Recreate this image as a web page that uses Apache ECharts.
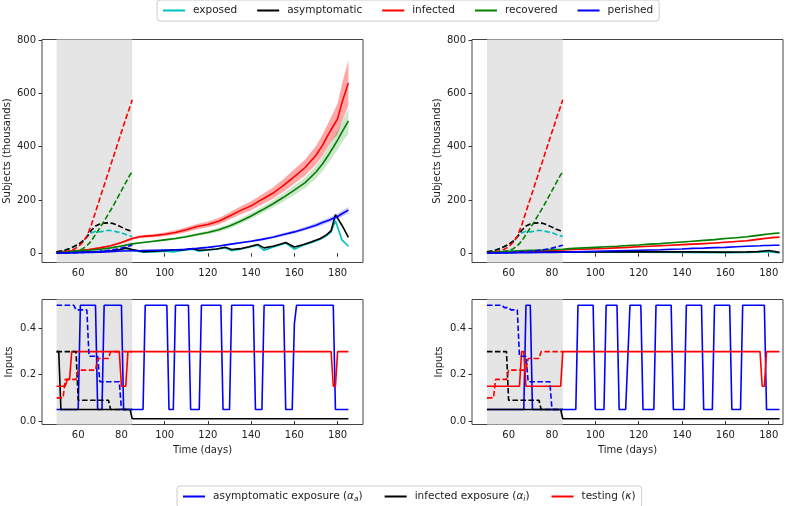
<!DOCTYPE html>
<html>
<head>
<meta charset="utf-8">
<script src="https://cdn.jsdelivr.net/npm/echarts@6/dist/echarts.min.js"></script>
<style>
html,body{margin:0;padding:0;background:#fff;}
#c{width:794px;height:506px;}
</style>
</head>
<body>
<div id="c"></div>
<script>
// ---------- tick labels / ranges ----------
const xTicks = [60, 80, 100, 120, 140, 160, 180];
const yTicksTop = [0, 200, 400, 600, 800];
const yTicksBottom = [0, 0.2, 0.4];
const shadeRange = [50, 85];

// ---------- top panels: smooth curves ----------
const smoothDays = [50,55,60,65,70,75,80,85,88,90,95,100,105,110,115,120,125,130,135,140,145,150,155,160,165,170,173,176,178,180,182,185];
// left
const infectedL      = [5,7,10,14,20,28,40,55,61,63,66,71,78,88,100,108,120,140,160,178,202,225,255,288,322,368,405,450,478,505,565,640];
const infectedBandL  = [3,3,3,3,3,3,4,5,5,5,6,7,8,9,10,11,12,13,15,17,19,21,24,27,30,35,40,45,50,58,70,85];
const recoveredL     = [3,5,8,11,15,20,27,35,38,40,45,50,55,62,70,78,88,102,120,140,162,185,210,237,265,305,335,372,398,425,455,497];
const recoveredBandL = [2,2,2,2,2,2,3,3,3,3,4,4,5,5,6,7,8,9,10,11,12,14,16,18,20,24,27,30,33,36,40,48];
const perishedL      = [0,1,2,3,4,6,8,9,9,10,11,12,13,15,18,22,27,33,39,45,52,60,70,80,92,105,115,124,131,138,148,162];
const perishedBandL  = [1,1,1,1,1,1,1,1,1,1,1,2,2,2,2,3,3,3,4,4,5,5,6,6,7,8,9,9,10,10,11,12];
const spikeDaysL     = [50,55,60,65,70,75,80,82,85,90,95,100,104,108,113,116,120,124,128,131,135,139,143,146,150,153,156,160,164,168,172,175,177,179,182,185];
const asymptomaticL  = [3,3,4,5,6,8,15,20,14,6,7,9,12,12,17,11,13,16,22,14,17,24,33,20,26,33,40,23,32,43,55,70,85,145,105,59];
const exposedL       = [3,3,4,5,6,8,14,18,10,4,5,7,5,10,15,7,12,15,20,9,15,22,30,11,22,30,38,15,30,40,52,66,80,122,50,26];
// right
const infectedR      = [3,4,5,6,8,9,11,12,13,14,15,17,18,20,22,24,26,28,30,32,34,36,38,41,44,47,50,53,55,57,59,60];
const infectedBandR  = [1,1,1,1,1,1,1,1,1,1,1,1,1,1,1,2,2,2,2,2,2,2,3,3,3,3,3,3,4,4,4,4];
const recoveredR     = [3,5,7,9,11,12,14,15,17,18,20,22,24,26,29,31,34,36,39,42,45,48,51,55,58,62,65,68,70,72,74,76];
const recoveredBandR = [1,1,1,1,1,1,1,1,1,1,1,1,1,1,1,2,2,2,2,2,2,2,3,3,3,3,3,3,4,4,4,4];
const perishedR      = [0,1,1,2,2,3,3,4,5,5,6,7,8,9,10,11,12,13,15,16,18,19,21,22,24,26,27,28,29,29,30,30];
const perishedBandR  = [1,1,1,1,1,1,1,1,1,1,1,1,1,1,1,1,1,1,1,1,1,1,1,1,1,1,1,1,1,1,1,1];
const spikeDaysR     = [50,60,70,80,85,100,120,140,160,170,175,180,185];
const asymptomaticR  = [3,4,5,6,5,5,6,5,4,5,6,10,3];
const exposedR       = [3,4,5,5,4,4,4,3,2,3,4,6,1];
// predictions (dashed, shaded period)
const predDays         = [50,52,54,56,58,60,62,64,66,68,70,72,74,76,78,80,82,84,85];
const predInfected     = [2,3,5,9,15,24,40,63,105,155,205,255,305,355,405,455,505,552,577];
const predRecovered    = [1,2,3,5,7,10,16,28,45,70,95,120,148,175,205,235,265,295,305];
const predAsymptomatic = [5,8,12,18,25,33,45,62,85,102,110,113,114,112,106,98,90,84,82];
const predExposed      = [5,8,12,17,24,32,42,60,76,82,80,83,86,84,80,77,70,65,63];
const predPerished     = [0,0,1,1,2,2,3,4,5,6,7,9,11,13,16,19,23,28,30];

// ---------- bottom panels: inputs ----------
const aA_L_days = [50,60,61,68,69,71,72,80,81,90,91,101,102,104,105,111,112,116,117,126,127,130,131,141,142,145,146,155,156,159,160,161,178,179,185];
const aA_L_vals = [.05,.05,.5,.5,.05,.05,.5,.5,.05,.05,.5,.5,.05,.05,.5,.5,.05,.05,.5,.5,.05,.05,.5,.5,.05,.05,.5,.5,.05,.05,.42,.5,.5,.05,.05];
const aI_L_days = [50,51,52,84,85,185];
const aI_L_vals = [.3,.3,.05,.05,.01,.01];
const k_L_days  = [50,54,55,56,57,79,80,82,83,177,178,179,180,185];
const k_L_vals  = [.15,.15,.18,.18,.3,.3,.15,.15,.3,.3,.15,.15,.3,.3];
const aA_L_pdays = [50,58,59,64,65,69,70,79,80,85];
const aA_L_pvals = [.5,.5,.48,.48,.28,.28,.17,.17,.05,.05];
const aI_L_pdays = [50,59,60,74,75,85];
const aI_L_pvals = [.3,.3,.09,.09,.05,.05];
const k_L_pdays  = [50,53,54,59,60,68,69,74,75,85];
const k_L_pvals  = [.1,.1,.18,.18,.22,.22,.27,.27,.3,.3];

const aA_R_days = [50,67,68,70,71,91,92,99,100,104,105,110,111,114,116,121,122,127,128,135,136,141,142,149,150,154,155,162,163,167,168,178,179,185];
const aA_R_vals = [.05,.05,.5,.5,.05,.05,.5,.5,.05,.05,.5,.5,.05,.05,.5,.5,.05,.05,.5,.5,.05,.05,.5,.5,.05,.05,.5,.5,.05,.05,.5,.5,.05,.05];
const aI_R_days = [50,84,85,185];
const aI_R_vals = [.05,.05,.01,.01];
const k_R_days  = [50,65,66,67,68,84,85,176,177,178,179,185];
const k_R_vals  = [.15,.15,.3,.3,.15,.15,.3,.3,.15,.15,.3,.3];
const aA_R_pdays = [50,57,58,60,61,64,65,68,69,79,80,85];
const aA_R_pvals = [.5,.5,.49,.49,.48,.48,.28,.28,.17,.17,.05,.05];
const aI_R_pdays = [50,59,60,74,75,85];
const aI_R_pvals = [.3,.3,.09,.09,.05,.05];
const k_R_pdays  = [50,53,54,59,60,68,69,74,75,85];
const k_R_pvals  = [.1,.1,.18,.18,.22,.22,.27,.27,.3,.3];

// ---------- styling ----------
const FONT = 'DejaVu Sans';
const C = {exposed:'#00bfbf', asymptomatic:'#000000', infected:'#ff0000', recovered:'#008000', perished:'#0000ff'};
const topNames = ['exposed','asymptomatic','infected','recovered','perished'];
const botNames = ['asymptomatic exposure','infected exposure','testing'];

const pts = (xs, ys) => xs.map((x, i) => [x, ys[i]]);

function line(name, xs, ys, color, gi, dashed, z) {
  return {
    type: 'line', name, xAxisIndex: gi, yAxisIndex: gi, data: pts(xs, ys),
    symbol: 'none', showSymbol: false, color, silent: true, z: z || 3,
    lineStyle: {color, width: 1.6, type: dashed ? [5.5, 2.5] : 'solid'}
  };
}
function band(xs, mid, half, color, gi) {
  const lo = mid.map((m, i) => m - half[i]);
  const hi = mid.map((m, i) => m + half[i]);
  return {
    type:'custom', xAxisIndex:gi, yAxisIndex:gi, silent:true, z:2, clip:true,
    data: xs.map((x, i) => [x, lo[i], hi[i]]),
    encode:{x:0, y:[1,2]},
    renderItem: (params, api) => {
      if (params.dataIndex !== 0) return;
      const upper = xs.map((x, i) => api.coord([x, hi[i]]));
      const lower = xs.map((x, i) => api.coord([x, lo[i]])).reverse();
      return {type:'polygon', shape:{points: upper.concat(lower)}, style:{fill: color}};
    }
  };
}
function shade(gi) {
  return {type:'line', name:'shade'+gi, xAxisIndex:gi, yAxisIndex:gi, data:[], z:1, silent:true,
    markArea:{silent:true, itemStyle:{color:'#e5e5e5'}, data:[[{xAxis:shadeRange[0]},{xAxis:shadeRange[1]}]]}};
}

const grids = [
  {left:42,  top:39.5,  width:321, height:223},
  {left:472, top:39.5,  width:311, height:223},
  {left:42,  top:299.5, width:321, height:125},
  {left:472, top:299.5, width:311, height:125}
].map(g => Object.assign(g, {show:true, borderColor:'#444', borderWidth:1, backgroundColor:'transparent', containLabel:false}));

const xRanges = [[43.25,191.75],[43.1,186.6],[43.25,191.75],[43.1,186.6]];
const xAxes = xRanges.map((r, i) => ({
  type:'value', gridIndex:i, min:r[0], max:r[1],
  axisLine:{show:false}, splitLine:{show:false},
  axisTick:{show:true, length:3.5, customValues:xTicks, lineStyle:{color:'#333'}},
  axisLabel:{customValues:xTicks, fontSize:10, color:'#222', margin:6, fontFamily:FONT},
  name: i >= 2 ? 'Time (days)' : '', nameLocation:'middle', nameGap:21,
  nameTextStyle:{fontSize:10, color:'#222', fontFamily:FONT}
}));
const yAxes = [0,1,2,3].map(i => {
  const top = i < 2;
  return {
    type:'value', gridIndex:i,
    min: top ? -35 : -0.015, max: top ? 803 : 0.525,
    axisLine:{show:false}, splitLine:{show:false},
    axisTick:{show:true, length:3.5, customValues: top ? yTicksTop : yTicksBottom, lineStyle:{color:'#333'}},
    axisLabel:{customValues: top ? yTicksTop : yTicksBottom, fontSize:10, color:'#222', margin:6, fontFamily:FONT,
      formatter: v => top ? String(v) : v.toFixed(1)},
    name: top ? 'Subjects (thousands)' : 'Inputs', nameLocation:'middle', nameGap: top ? 30 : 28, nameRotate:90,
    nameTextStyle:{fontSize:10, color:'#222', fontFamily:FONT}
  };
});

const series = [];
[0,1,2,3].forEach(gi => series.push(shade(gi)));
// top-left
series.push(band(smoothDays, infectedL, infectedBandL, 'rgba(255,0,0,0.35)', 0));
series.push(band(smoothDays, recoveredL, recoveredBandL, 'rgba(0,128,0,0.2)', 0));
series.push(band(smoothDays, perishedL, perishedBandL, 'rgba(0,0,255,0.22)', 0));
series.push(line('exposed', spikeDaysL, exposedL, C.exposed, 0));
series.push(line('asymptomatic', spikeDaysL, asymptomaticL, C.asymptomatic, 0));
series.push(line('infected', smoothDays, infectedL, C.infected, 0));
series.push(line('recovered', smoothDays, recoveredL, C.recovered, 0));
series.push(line('perished', smoothDays, perishedL, C.perished, 0, false, 4));
series.push(line('p_exposed', predDays, predExposed, C.exposed, 0, true));
series.push(line('p_asymptomatic', predDays, predAsymptomatic, C.asymptomatic, 0, true));
series.push(line('p_infected', predDays, predInfected, C.infected, 0, true));
series.push(line('p_recovered', predDays, predRecovered, C.recovered, 0, true));
series.push(line('p_perished', predDays, predPerished, C.perished, 0, true));
// top-right
series.push(band(smoothDays, infectedR, infectedBandR, 'rgba(255,0,0,0.35)', 1));
series.push(band(smoothDays, recoveredR, recoveredBandR, 'rgba(0,128,0,0.2)', 1));
series.push(band(smoothDays, perishedR, perishedBandR, 'rgba(0,0,255,0.22)', 1));
series.push(line('exposed', spikeDaysR, exposedR, C.exposed, 1));
series.push(line('asymptomatic', spikeDaysR, asymptomaticR, C.asymptomatic, 1));
series.push(line('infected', smoothDays, infectedR, C.infected, 1));
series.push(line('recovered', smoothDays, recoveredR, C.recovered, 1));
series.push(line('perished', smoothDays, perishedR, C.perished, 1, false, 4));
series.push(line('p_exposed', predDays, predExposed, C.exposed, 1, true));
series.push(line('p_asymptomatic', predDays, predAsymptomatic, C.asymptomatic, 1, true));
series.push(line('p_infected', predDays, predInfected, C.infected, 1, true));
series.push(line('p_recovered', predDays, predRecovered, C.recovered, 1, true));
series.push(line('p_perished', predDays, predPerished, C.perished, 1, true));
// bottom-left
series.push(line('asymptomatic exposure', aA_L_days, aA_L_vals, '#0000ff', 2));
series.push(line('infected exposure', aI_L_days, aI_L_vals, '#000000', 2));
series.push(line('testing', k_L_days, k_L_vals, '#ff0000', 2));
series.push(line('p_aA', aA_L_pdays, aA_L_pvals, '#0000ff', 2, true));
series.push(line('p_aI', aI_L_pdays, aI_L_pvals, '#000000', 2, true));
series.push(line('p_k', k_L_pdays, k_L_pvals, '#ff0000', 2, true));
// bottom-right
series.push(line('asymptomatic exposure', aA_R_days, aA_R_vals, '#0000ff', 3));
series.push(line('infected exposure', aI_R_days, aI_R_vals, '#000000', 3));
series.push(line('testing', k_R_days, k_R_vals, '#ff0000', 3));
series.push(line('p_aA', aA_R_pdays, aA_R_pvals, '#0000ff', 3, true));
series.push(line('p_aI', aI_R_pdays, aI_R_pvals, '#000000', 3, true));
series.push(line('p_k', k_R_pdays, k_R_pvals, '#ff0000', 3, true));

const legendBase = {
  orient:'horizontal', icon:'rect', itemWidth:22, itemHeight:2, itemGap:20,
  borderColor:'#cccccc', borderWidth:1, borderRadius:3, padding:[5,6],
  backgroundColor:'rgba(255,255,255,0.9)', selectedMode:false,
  textStyle:{fontSize:10.5, color:'#222', fontFamily:FONT, padding:[0,0,0,3]}
};
const option = {
  animation:false,
  backgroundColor:'#ffffff',
  grid: grids,
  xAxis: xAxes,
  yAxis: yAxes,
  legend: [
    Object.assign({}, legendBase, {data: topNames, left:157, top:0}),
    Object.assign({}, legendBase, {data: botNames, left:177, top:486, itemGap:22,
      formatter: n => n === 'asymptomatic exposure' ? 'asymptomatic exposure ({g|α}{s|a})'
                  : n === 'infected exposure' ? 'infected exposure ({g|α}{s|i})'
                  : 'testing ({g|κ})',
      textStyle:{fontSize:10.5, color:'#222', fontFamily:FONT, padding:[0,0,0,3],
        rich:{
          g:{fontSize:10.5, fontStyle:'italic', color:'#222', fontFamily:FONT},
          s:{fontSize:7.5, fontStyle:'italic', color:'#222', fontFamily:FONT, padding:[5,0,0,0]}
        }}
    })
  ],
  series
};
const chart = echarts.init(document.getElementById('c'));
chart.setOption(option);
</script>
</body>
</html>
